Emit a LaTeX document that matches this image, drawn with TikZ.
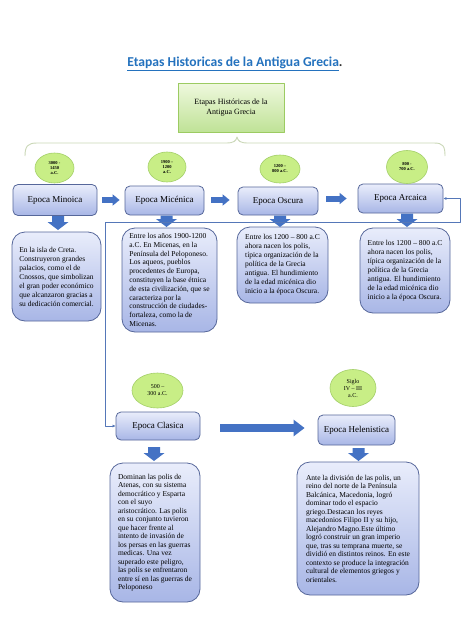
\documentclass[tikz,border=0pt]{standalone}
\usepackage{fontspec}
\setmainfont{Liberation Serif}
\newfontfamily\titlefont{Carlito}
\usetikzlibrary{arrows.meta,shapes.geometric,positioning,calc}

\definecolor{arrowblue}{HTML}{4472C4}
\definecolor{boxedge}{HTML}{56679A}
\definecolor{boxlight}{HTML}{E9EDFB}
\definecolor{boxdark}{HTML}{A8B6E6}
\definecolor{datefill}{HTML}{C8EE86}
\definecolor{datedge}{HTML}{A3CF68}
\definecolor{greenlight}{HTML}{EEF8DD}
\definecolor{greendark}{HTML}{BFE296}
\definecolor{greenedge}{HTML}{9CCB62}
\definecolor{bracecol}{HTML}{CBD8B8}
\definecolor{titleblue}{HTML}{2472BE}
\definecolor{linkblue}{HTML}{5577B8}

% block arrow pointing down: x, y top, y tip
\newcommand{\flechabajo}[3]{%
  \fill[arrowblue] ({#1-6},#2) -- ({#1+6},#2) -- ({#1+6},{#3-8}) -- ({#1+10.5},{#3-8})
    -- (#1,#3) -- ({#1-10.5},{#3-8}) -- ({#1-6},{#3-8}) -- cycle;}

\tikzset{
  epoca/.style={draw=boxedge, line width=0.8pt, rounded corners=5pt,
    top color=boxlight, bottom color=boxdark, inner sep=0pt,
    font=\fontsize{9}{10}\selectfont},
  infobox/.style={draw=boxedge, line width=0.8pt, rounded corners=13pt,
    top color=boxlight, bottom color=boxdark, inner sep=0pt, align=left,
    font=\fontsize{7.5}{9}\selectfont},
  fecha/.style={ellipse, draw=datedge, fill=datefill, line width=0.6pt,
    inner sep=0pt, align=center, font=\fontsize{4.5}{5}\selectfont\bfseries},
  fechagrande/.style={fecha, font=\fontsize{6}{7}\selectfont},
  rblk/.style={draw=arrowblue, line width=6pt, -{Triangle[width=11pt,length=7pt]}},
  bigblk/.style={draw=arrowblue, line width=8pt, -{Triangle[width=16pt,length=11pt]}},
  enlace/.style={draw=linkblue, line width=0.6pt, {Latex[length=3pt,width=3pt]}-{Latex[length=3pt,width=3pt]}}
}

\begin{document}
\begin{tikzpicture}[x=1pt, y=-1pt, line join=round]

  \fill[white] (0,0) rectangle (474,632);
  \useasboundingbox (0,0) rectangle (474,632);

  %--------------------------
  % Title and root
  %--------------------------
  \node (titulo) at (235,64)
    {\titlefont\bfseries\fontsize{13.6}{15}\selectfont\textcolor{titleblue}{\underline{Etapas Historicas de la Antigua Grecia}}\textcolor{black!80}{.}};

  \node[draw=greenedge, line width=0.8pt, top color=greenlight, bottom color=greendark,
    minimum width=106pt, minimum height=49pt, inner sep=0pt, align=center,
    font=\fontsize{8}{10}\selectfont] (raiz) at (231,108) {Etapas Históricas de la\\Antigua Grecia};

  % brace
  \draw[bracecol, line width=0.9pt] (25,156) .. controls (25,146) and (28,143) .. (37,143)
    -- (226,143) .. controls (234,143) and (236,141) .. (237,137)
    .. controls (238,141) and (240,143) .. (248,143)
    -- (434,143) .. controls (443,143) and (445,146) .. (445,156);

  %--------------------------
  % Epocas
  %--------------------------
  \node[epoca, minimum width=84pt, minimum height=31pt] (mino) at (55,200) {Epoca Minoica};
  \node[epoca, minimum width=79pt, minimum height=29pt] (mice) at (164.5,200.5) {Epoca Micénica};
  \node[epoca, minimum width=80pt, minimum height=28pt] (oscu) at (278,201) {Epoca Oscura};
  \node[epoca, minimum width=85pt, minimum height=29pt] (arca) at (400.5,198.5) {Epoca Arcaica};
  \node[epoca, minimum width=84pt, minimum height=28pt] (clas) at (158,426) {Epoca Clasica};
  \node[epoca, minimum width=77pt, minimum height=30pt] (hele) at (356.5,430) {Epoca Helenistica};

  % fechas
  \node[fecha, minimum width=39pt, minimum height=30pt] (fmino) at (54.5,168) {3000 -\\1450\\a.C.};
  \node[fecha, minimum width=38pt, minimum height=30pt] (fmice) at (167,167) {1900 –\\1200\\a.C.};
  \node[fecha, minimum width=40pt, minimum height=28pt] (foscu) at (280,169) {1200 –\\800 a.C.};
  \node[fecha, minimum width=41pt, minimum height=33pt] (farca) at (407,167) {800 -\\700 a.C.};
  \node[fechagrande, minimum width=51pt, minimum height=35pt] (fclas) at (157.5,390.5) {500 –\\300 a.C.};
  \node[fechagrande, minimum width=46pt, minimum height=37pt] (fhele) at (353,388) {Siglo\\IV – III\\a.C.};

  %--------------------------
  % Descripciones
  %--------------------------
  \node[infobox, minimum width=89pt, minimum height=89pt] (tmino) at (56.5,276.5)
    {En la isla de Creta.\\Construyeron grandes\\palacios, como el de\\Cnossos, que simbolizan\\el gran poder económico\\que alcanzaron gracias a\\su dedicación comercial.};
  \node[infobox, minimum width=95pt, minimum height=104pt, font=\fontsize{7.5}{8.8}\selectfont] (tmice) at (169.5,280)
    {Entre los años 1900-1200\\a.C. En Micenas, en la\\Península del Peloponeso.\\Los aqueos, pueblos\\procedentes de Europa,\\constituyen la base étnica\\de esta civilización, que se\\caracteriza por la\\construcción de ciudades-\\fortaleza, como la de\\Micenas.};
  \node[infobox, minimum width=91pt, minimum height=76pt] (toscu) at (282.5,265)
    {Entre los 1200 – 800 a.C\\ahora nacen los polis,\\típica organización de la\\política de la Grecia\\antigua. El hundimiento\\de la edad micénica dio\\inicio a la época Oscura.};
  \node[infobox, minimum width=90pt, minimum height=85pt] (tarca) at (405,270.5)
    {Entre los 1200 – 800 a.C\\ahora nacen los polis,\\típica organización de la\\política de la Grecia\\antigua. El hundimiento\\de la edad micénica dio\\inicio a la época Oscura.};
  \node[infobox, minimum width=90pt, minimum height=139pt, font=\fontsize{7.5}{8.5}\selectfont] (tclas) at (155,532.5)
    {Dominan las polis de\\Atenas, con su sistema\\democrático y Esparta\\con el suyo\\aristocrático. Las polis\\en su conjunto tuvieron\\que hacer frente al\\intento de invasión de\\los persas en las guerras\\medicas. Una vez\\superado este peligro,\\las polis se enfrentaron\\entre sí en las guerras de\\Peloponeso};
  \node[infobox, minimum width=122pt, minimum height=133pt, font=\fontsize{7.5}{8.5}\selectfont] (thele) at (358,528.5)
    {Ante la división de las polis, un\\reino del norte de la Península\\Balcánica, Macedonia, logró\\dominar todo el espacio\\griego.Destacan los reyes\\macedonios Filipo II y su hijo,\\Alejandro Magno.Este último\\logró construir un gran imperio\\que, tras su temprana muerte, se\\dividió en distintos reinos. En este\\contexto se produce la integración\\cultural de elementos griegos y\\orientales.};

  %--------------------------
  % Flechas
  %--------------------------
  \draw[rblk, shorten <=5pt, shorten >=5pt] (mino.east) -- (mino.east -| mice.west);
  \draw[rblk, shorten <=7pt, shorten >=8pt] (mice.east |- mino.east) -- (mino.east -| oscu.west);
  \draw[rblk, shorten <=8pt, shorten >=11pt] (oscu.east |- arca.east) -- (arca.west);
  \draw[bigblk, shorten <=20pt, shorten >=13pt] (clas.east |- 0,428) -- (hele.west |- 0,428);

  \flechabajo{58}{216}{230}
  \flechabajo{166.5}{215.5}{227}
  \flechabajo{280}{215.5}{227}
  \flechabajo{407}{213.5}{227}
  \flechabajo{154}{447}{461}
  \flechabajo{358.5}{448}{461}

  % enlace Arcaica - Clasica
  \coordinate (codo1) at (460,222);
  \coordinate (codo2) at (105,222);
  \draw[enlace] (arca.east) -| (codo1) -- (codo2) |- (clas.west);

\end{tikzpicture}
\end{document}
